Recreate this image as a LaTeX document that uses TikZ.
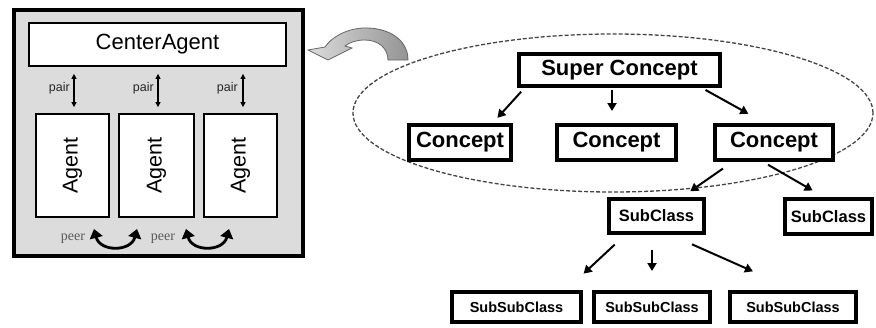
\documentclass[tikz,border=0pt]{standalone}
\usepackage{fontspec}
\setmainfont{Liberation Sans}
\newfontfamily\peerfont{Liberation Serif}
\usetikzlibrary{arrows.meta,shapes.geometric}
\definecolor{panel}{HTML}{DCDCDC}
\definecolor{dashcol}{HTML}{444444}
\tikzset{
  frame/.style={draw=black, line width=4pt, fill=panel},
  cabox/.style={draw=black, line width=1.8pt, fill=white, inner sep=0pt},
  cbox/.style={draw=black, line width=4pt, fill=white, inner sep=0pt, font=\fontsize{22}{22}\selectfont\bfseries},
  sbox/.style={draw=black, line width=4pt, fill=white, inner sep=0pt, font=\fontsize{16.5}{16.5}\selectfont\bfseries},
  ssbox/.style={draw=black, line width=4pt, fill=white, inner sep=0pt, font=\fontsize{14.5}{14.5}\selectfont\bfseries},
  tarrow/.style={line width=2pt, -{Triangle[width=9pt,length=8pt]}},
  pairarrow/.style={line width=1.1pt, {Triangle[width=5pt,length=5pt]}-{Triangle[width=5pt,length=5pt]}},
  peerarrow/.style={line width=2.8pt, {Triangle[width=13pt,length=9pt]}-{Triangle[width=13pt,length=9pt]}},
  lbl/.style={inner sep=0pt, text=black!85},
}
\begin{document}
\begin{tikzpicture}[x=1pt,y=-1pt]
\useasboundingbox (0,0) rectangle (876,327);
% ---------- left panel ----------
\draw[frame] (14,10) rectangle (303,256);
\node[cabox, minimum width=257pt, minimum height=43pt, font=\fontsize{22}{22}\selectfont] (ca) at (157.5,44.5) {CenterAgent};
\node[cabox, minimum width=73pt, minimum height=103pt] (ag1) at (72.5,165.5) {};
\node[cabox, minimum width=75pt, minimum height=103pt] (ag2) at (156.5,165.5) {};
\node[cabox, minimum width=73pt, minimum height=103pt] (ag3) at (240.5,165.5) {};
\node[rotate=90, inner sep=0pt, font=\fontsize{21.5}{21.5}\selectfont] (ag1t) at (ag1) {Agent};
\node[rotate=90, inner sep=0pt, font=\fontsize{21.5}{21.5}\selectfont] (ag2t) at (ag2) {Agent};
\node[rotate=90, inner sep=0pt, font=\fontsize{21.5}{21.5}\selectfont] (ag3t) at (ag3) {Agent};
% pair arrows
\draw[pairarrow, shorten <=6pt, shorten >=7pt] ([xshift=1.5pt]ag1.north) -- ([xshift=1.5pt]ag1.north |- ca.south);
\draw[pairarrow, shorten <=6pt, shorten >=7pt] ([xshift=1.5pt]ag2.north) -- ([xshift=1.5pt]ag2.north |- ca.south);
\draw[pairarrow, shorten <=6pt, shorten >=7pt] ([xshift=2.5pt]ag3.north) -- ([xshift=2.5pt]ag3.north |- ca.south);
\node[lbl, anchor=east, font=\fontsize{12.5}{12.5}\selectfont] (pl1) at (70,88) {pair};
\node[lbl, anchor=east, font=\fontsize{12.5}{12.5}\selectfont] (pl2) at (154,88) {pair};
\node[lbl, anchor=east, font=\fontsize{12.5}{12.5}\selectfont] (pl3) at (238,88) {pair};
% peer arrows
\coordinate (p1a) at (94,229);
\coordinate (p1b) at (137,229);
\coordinate (p2a) at (186,229);
\coordinate (p2b) at (229,229);
\draw[peerarrow] (p1a) .. controls (100,252) and (131,252) .. (p1b);
\draw[peerarrow] (p2a) .. controls (192,252) and (223,252) .. (p2b);
\node[lbl, text=black!65, font=\peerfont\fontsize{14}{14}\selectfont] (pe1) at (73,239) {peer};
\node[lbl, text=black!65, font=\peerfont\fontsize{14}{14}\selectfont] (pe2) at (163,239) {peer};
% gray curved arrow
\shade[left color=black!14, right color=black!42, draw=black!60, line width=0.8pt]
  (408,60) .. controls (408,38) and (386,27) .. (363,28)
  .. controls (345,29) and (331,38) .. (325,47)
  -- (308,50) -- (328,60) -- (352,48) -- (345,46)
  .. controls (350,42) and (357,40) .. (365,40)
  .. controls (378,40) and (388,48) .. (388,60) -- cycle;
% ---------- right: concept tree ----------
\draw[dashcol, line width=1.3pt, dash pattern=on 4pt off 2pt] (613,113) ellipse [x radius=260pt, y radius=79pt];
\node[cbox, minimum width=201pt, minimum height=32pt] (sc) at (619.5,70) {Super Concept};
\node[cbox, minimum width=102pt, minimum height=35pt] (c1) at (460,142.5) {Concept};
\node[cbox, minimum width=119pt, minimum height=35pt] (c2) at (616.5,142.5) {Concept};
\node[cbox, minimum width=118pt, minimum height=35pt] (c3) at (774,142.5) {Concept};
\node[sbox, minimum width=95pt, minimum height=34pt] (s1) at (656.5,216) {SubClass};
\node[sbox, minimum width=87pt, minimum height=35pt] (s2) at (828.5,216.5) {SubClass};
\node[ssbox, minimum width=129pt, minimum height=30pt] (ss1) at (516.5,307) {SubSubClass};
\node[ssbox, minimum width=116pt, minimum height=30pt] (ss2) at (652,307) {SubSubClass};
\node[ssbox, minimum width=126pt, minimum height=30pt] (ss3) at (793,307) {SubSubClass};
% tree arrows
\draw[tarrow, shorten <=5pt, shorten >=7pt] ([xshift=7.5pt]sc.south west) -- ([xshift=32.7pt]c1.north);
\draw[tarrow, shorten <=2pt, shorten >=12pt] ([xshift=-7.5pt]sc.south) -- ([xshift=-4.5pt]c2.north);
\draw[tarrow, shorten <=4pt, shorten >=19pt] ([xshift=-20pt]sc.south east) -- ([xshift=-9pt]c3.north);
\draw[tarrow, shorten <=11.5pt, shorten >=10pt] ([xshift=19.4pt]c3.south west) -- ([xshift=25.5pt]s1.north);
\draw[tarrow, shorten <=5.5pt, shorten >=13pt] ([xshift=-10.7pt]c3.south) -- ([xshift=-4.6pt]s2.north);
\draw[tarrow, shorten <=14pt, shorten >=24pt] ([xshift=-31.5pt]s1.south) -- ([xshift=49.5pt]ss1.north);
\draw[tarrow, shorten <=15pt, shorten >=19pt] ([xshift=-4.5pt]s1.south) -- (ss2.north);
\draw[tarrow, shorten <=23pt, shorten >=46pt] ([xshift=14.5pt]s1.south) -- ([xshift=2pt]ss3.north);
\end{tikzpicture}
\end{document}
